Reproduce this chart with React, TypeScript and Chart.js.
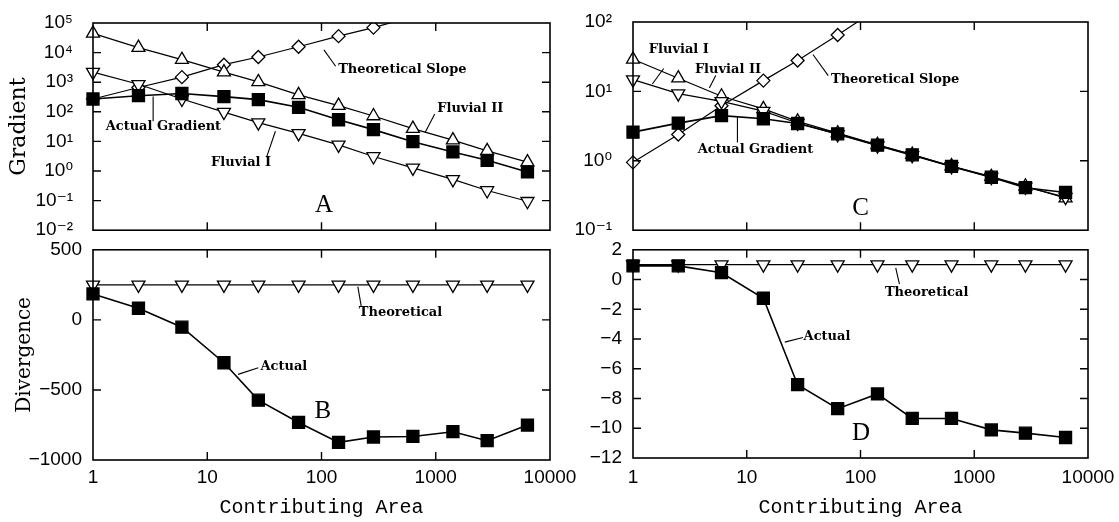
import React, { useEffect, useRef } from 'react';
import { Chart, registerables } from 'chart.js';

Chart.register(...registerables);

// ---------- data ----------
// Contributing area (x) shared by every panel
const AREA = [1, 2.5, 6, 14, 28, 63, 141, 285, 631, 1413, 2818, 6350];

// Panel A: gradient vs contributing area
const A_ACTUAL = [270, 350, 415, 325, 257, 142, 54, 25, 9.8, 4.4, 2.3, 0.93];
const A_THEORY = [270, 660, 1480, 3900, 7100, 15800, 36000, 70000, 165000, null, null, null];
const A_FLUVIAL_I = [2190, 850, 270, 98, 43, 18.6, 7.6, 3.1, 1.27, 0.52, 0.22, 0.095];
const A_FLUVIAL_II = [44600, 14800, 5760, 2190, 1020, 373, 162, 72, 27, 11, 4.8, 2.0];

// Panel B: divergence
const B_THEORY = [250, 250, 250, 250, 250, 250, 250, 250, 250, 250, 250, 250];
const B_ACTUAL = [185, 83, -52, -306, -573, -732, -874, -836, -832, -798, -862, -751];

// Panel C: gradient vs contributing area
const C_ACTUAL = [2.59, 3.49, 4.47, 4.04, 3.45, 2.45, 1.68, 1.22, 0.83, 0.58, 0.41, 0.35];
const C_THEORY = [0.95, 2.39, 6.2, 14.3, 27.9, 65, 155, null, null, null, null, null];
const C_FLUVIAL_I = [14.8, 9.3, 7.2, 5.2, 3.5, 2.4, 1.65, 1.2, 0.83, 0.58, 0.42, 0.3];
const C_FLUVIAL_II = [29, 15.5, 8.5, 5.6, 3.7, 2.5, 1.7, 1.23, 0.84, 0.59, 0.43, 0.29];

// Panel D: divergence
const D_THEORY = [1, 1, 1, 1, 1, 1, 1, 1, 1, 1, 1, 1];
const D_ACTUAL = [0.92, 0.92, 0.46, -1.26, -7.07, -8.68, -7.69, -9.34, -9.34, -10.11, -10.33, -10.62];

// Tick values
const X_TICKS = [1, 10, 100, 1000, 10000];
const A_Y_TICKS = [1e-2, 1e-1, 1, 10, 100, 1e3, 1e4, 1e5];
const C_Y_TICKS = [0.1, 1, 10, 100];

// ---------- helpers ----------
const SUP: Record<string, string> = {
  '-': '\u207B', '0': '\u2070', '1': '\u00B9', '2': '\u00B2', '3': '\u00B3',
  '4': '\u2074', '5': '\u2075', '6': '\u2076', '7': '\u2077', '8': '\u2078', '9': '\u2079',
};
const pow10Label = (v: number) =>
  '10' + String(Math.round(Math.log10(v))).split('').map((c) => SUP[c]).join('');
const linLabel = (v: number) => (v < 0 ? '\u2212' + Math.abs(v) : String(v));

const pts = (ys: (number | null)[]) =>
  AREA.map((x, i) => ({ x, y: ys[i] })).filter((p) => p.y !== null);

const TICK_FONT = { family: '"Liberation Sans", "DejaVu Sans", sans-serif', size: 19 };
const NOTE_FONT = 'bold 13px "DejaVu Serif", serif';
const LETTER_FONT = '25px "Liberation Serif", serif';

const CLIP = { left: 14, right: 14, top: 0, bottom: 14 };

function series(ys: (number | null)[], kind: string, yMax: number) {
  const base: any = {
    data: pts(ys),
    borderColor: '#000',
    borderWidth: 1.2,
    pointBorderColor: '#000',
    pointBorderWidth: 1.3,
    pointBackgroundColor: '#fff',
    tension: 0,
    clip: CLIP,
  };
  if (kind === 'square') {
    base.pointStyle = 'rect';
    base.pointRadius = 8.5;
    base.pointBackgroundColor = '#000';
    base.borderWidth = 1.6;
  } else if (kind === 'up') {
    base.pointStyle = 'triangle';
    base.pointRadius = 7.5;
  } else if (kind === 'down') {
    base.pointStyle = 'triangle';
    base.pointRotation = 180;
    base.pointRadius = 7.5;
  } else if (kind === 'diamond') {
    base.pointStyle = 'rectRot';
    base.pointRadius = (ctx: any) => (ctx.raw && ctx.raw.y > yMax ? 0 : 6.5);
  }
  return base;
}

// ---------- plugins ----------
const framePlugin = {
  id: 'frame',
  afterDatasetsDraw(chart: any) {
    const { ctx, chartArea: a, scales } = chart;
    const x = scales.x;
    const y = scales.y;
    ctx.save();
    ctx.strokeStyle = '#000';
    ctx.lineWidth = 1.6;
    ctx.strokeRect(a.left, a.top, a.right - a.left, a.bottom - a.top);
    const L = 8;
    ctx.lineWidth = 1.4;
    ctx.beginPath();
    for (const t of x.ticks) {
      const px = x.getPixelForValue(t.value);
      if (px <= a.left + 2 || px >= a.right - 2) continue;
      ctx.moveTo(px, a.bottom);
      ctx.lineTo(px, a.bottom - L);
      ctx.moveTo(px, a.top);
      ctx.lineTo(px, a.top + L);
    }
    for (const t of y.ticks) {
      const py = y.getPixelForValue(t.value);
      if (py <= a.top + 2 || py >= a.bottom - 2) continue;
      ctx.moveTo(a.left, py);
      ctx.lineTo(a.left + L, py);
      ctx.moveTo(a.right, py);
      ctx.lineTo(a.right - L, py);
    }
    ctx.stroke();
    ctx.restore();
  },
};

const notesPlugin = {
  id: 'notes',
  afterDraw(chart: any, _args: any, opts: any) {
    const { ctx, scales } = chart;
    const x = scales.x;
    const y = scales.y;
    const items = (opts && opts.items) || [];
    ctx.save();
    ctx.strokeStyle = '#000';
    ctx.fillStyle = '#000';
    ctx.lineWidth = 1.1;
    for (let i = 0; i < items.length; i++) {
      const n = items[i];
      if (n.line) {
        ctx.beginPath();
        ctx.moveTo(x.getPixelForValue(n.line[0]), y.getPixelForValue(n.line[1]));
        ctx.lineTo(x.getPixelForValue(n.line[2]), y.getPixelForValue(n.line[3]));
        ctx.stroke();
      }
      ctx.font = n.font;
      ctx.textAlign = n.align;
      ctx.textBaseline = 'middle';
      ctx.fillText(n.text, x.getPixelForValue(n.x), y.getPixelForValue(n.y));
    }
    ctx.restore();
  },
};

// ---------- panel configs ----------
type PanelCfg = {
  key: string;
  left: number; top: number; w: number; h: number;
  yWidth: number; padTop: number; padRight: number; xHeight: number;
  xLabels: boolean; xPad: number;
  yType: 'logarithmic' | 'linear'; yMin: number; yMax: number;
  yTicks?: number[]; yStep?: number; yPad: number;
  yTitle?: string; yTitlePad?: number; yTitleSize?: number;
  datasets: any[];
  notes: any[];
};

const PANELS: PanelCfg[] = [
  {
    key: 'A', left: 0, top: 0, w: 585, h: 240,
    yWidth: 93, padTop: 23, padRight: 35, xHeight: 8,
    xLabels: false, xPad: 0,
    yType: 'logarithmic', yMin: 1e-2, yMax: 1e5, yTicks: A_Y_TICKS, yPad: 20,
    yTitle: 'Gradient', yTitlePad: 6, yTitleSize: 22,
    datasets: [
      series(A_ACTUAL, 'square', 1e5),
      series(A_FLUVIAL_I, 'down', 1e5),
      series(A_FLUVIAL_II, 'up', 1e5),
      series(A_THEORY, 'diamond', 1e5),
    ],
    notes: [
      { text: 'Theoretical Slope', x: 140, y: 2670, font: NOTE_FONT, align: 'left', line: [133, 3470, 105, 12300] },
      { text: 'Fluvial II', x: 1030, y: 132, font: NOTE_FONT, align: 'left', line: [980, 85, 807, 20] },
      { text: 'Actual Gradient', x: 1.29, y: 31, font: NOTE_FONT, align: 'left', line: [3.36, 48, 3.36, 330] },
      { text: 'Fluvial I', x: 10.8, y: 1.86, font: NOTE_FONT, align: 'left', line: [33, 2.9, 39.5, 22] },
      { text: 'A', x: 105, y: 0.068, font: LETTER_FONT, align: 'center' },
    ],
  },
  {
    key: 'B', left: 0, top: 240, w: 585, h: 282,
    yWidth: 93, padTop: 8, padRight: 35, xHeight: 62,
    xLabels: true, xPad: 6,
    yType: 'linear', yMin: -1000, yMax: 500, yStep: 500, yPad: 11,
    yTitle: 'Divergence', yTitlePad: 13, yTitleSize: 20,
    datasets: [
      series(B_ACTUAL, 'square', 500),
      series(B_THEORY, 'down', 500),
    ],
    notes: [
      { text: 'Theoretical', x: 212, y: 55, font: NOTE_FONT, align: 'left', line: [223, 95, 208, 237] },
      { text: 'Actual', x: 29.2, y: -332, font: NOTE_FONT, align: 'left', line: [28, -341, 18.6, -389] },
      { text: 'B', x: 102.6, y: -656, font: LETTER_FONT, align: 'center' },
    ],
  },
  {
    key: 'C', left: 560, top: 0, w: 559, h: 240,
    yWidth: 73, padTop: 22, padRight: 31, xHeight: 9,
    xLabels: false, xPad: 0,
    yType: 'logarithmic', yMin: 0.1, yMax: 100, yTicks: C_Y_TICKS, yPad: 21,
    datasets: [
      series(C_ACTUAL, 'square', 100),
      series(C_FLUVIAL_I, 'down', 100),
      series(C_FLUVIAL_II, 'up', 100),
      series(C_THEORY, 'diamond', 100),
    ],
    notes: [
      { text: 'Theoretical Slope', x: 55, y: 14.8, font: NOTE_FONT, align: 'left', line: [52, 16.9, 38.2, 34] },
      { text: 'Fluvial I', x: 1.378, y: 39.4, font: NOTE_FONT, align: 'left', line: [1.86, 21.4, 1.48, 12.8] },
      { text: 'Fluvial II', x: 3.5, y: 20.7, font: NOTE_FONT, align: 'left', line: [5.34, 16.9, 4.69, 11.2] },
      { text: 'Actual Gradient', x: 3.71, y: 1.44, font: NOTE_FONT, align: 'left', line: [8.28, 1.83, 8.28, 4.27] },
      { text: 'C', x: 100, y: 0.206, font: LETTER_FONT, align: 'center' },
    ],
  },
  {
    key: 'D', left: 560, top: 240, w: 559, h: 282,
    yWidth: 73, padTop: 8, padRight: 31, xHeight: 64,
    xLabels: true, xPad: 8,
    yType: 'linear', yMin: -12, yMax: 2, yStep: 2, yPad: 11,
    datasets: [
      series(D_ACTUAL, 'square', 2),
      series(D_THEORY, 'down', 2),
    ],
    notes: [
      { text: 'Theoretical', x: 164, y: -0.91, font: NOTE_FONT, align: 'left', line: [220, -0.31, 204, 0.79] },
      { text: 'Actual', x: 31.6, y: -3.84, font: NOTE_FONT, align: 'left', line: [31.2, -3.9, 21.6, -4.21] },
      { text: 'D', x: 101, y: -10.38, font: LETTER_FONT, align: 'center' },
    ],
  },
];

function buildConfig(cfg: PanelCfg): any {
  const yScale: any = {
    type: cfg.yType,
    position: 'left',
    min: cfg.yMin,
    max: cfg.yMax,
    grid: { display: false, drawTicks: false },
    border: { display: false },
    ticks: {
      autoSkip: false,
      padding: cfg.yPad,
      color: '#000',
      font: TICK_FONT,
      callback: (v: number) => (cfg.yType === 'logarithmic' ? pow10Label(v) : linLabel(v)),
    },
    afterFit: (s: any) => {
      s.width = cfg.yWidth;
      s.paddingTop = 0;
      s.paddingBottom = 0;
    },
    title: cfg.yTitle
      ? {
          display: true,
          text: cfg.yTitle,
          color: '#000',
          font: { family: '"DejaVu Serif", serif', size: cfg.yTitleSize || 20 },
          padding: { top: cfg.yTitlePad, bottom: 0 },
        }
      : { display: false },
  };
  if (cfg.yTicks) {
    const t = cfg.yTicks;
    yScale.afterBuildTicks = (s: any) => {
      s.ticks = t.map((value) => ({ value }));
    };
  } else if (cfg.yStep) {
    yScale.ticks.stepSize = cfg.yStep;
  }

  return {
    type: 'line',
    data: { datasets: cfg.datasets },
    options: {
      responsive: false,
      animation: false,
      events: [],
      layout: { padding: { left: 0, top: cfg.padTop, right: cfg.padRight, bottom: 0 } },
      plugins: {
        legend: { display: false },
        tooltip: { enabled: false },
        notes: { items: cfg.notes },
      },
      scales: {
        x: {
          type: 'logarithmic',
          position: 'bottom',
          min: 1,
          max: 10000,
          grid: { display: false, drawTicks: false },
          border: { display: false },
          afterBuildTicks: (s: any) => {
            s.ticks = X_TICKS.map((value) => ({ value }));
          },
          afterFit: (s: any) => {
            s.height = cfg.xHeight;
            s.paddingLeft = 0;
            s.paddingRight = 0;
          },
          ticks: {
            display: cfg.xLabels,
            autoSkip: false,
            maxRotation: 0,
            padding: cfg.xPad,
            color: '#000',
            font: TICK_FONT,
            callback: (v: number) => String(v),
          },
          title: cfg.xLabels
            ? {
                display: true,
                text: 'Contributing Area',
                color: '#000',
                font: { family: '"Liberation Mono", monospace', size: 20 },
                padding: { top: 0, bottom: 2 },
              }
            : { display: false },
        },
        y: yScale,
      },
    },
    plugins: [framePlugin, notesPlugin],
  };
}

function Panel({ cfg }: { cfg: PanelCfg }) {
  const ref = useRef<HTMLCanvasElement>(null);
  useEffect(() => {
    if (!ref.current) return;
    const chart = new Chart(ref.current, buildConfig(cfg));
    return () => chart.destroy();
  }, [cfg]);
  return (
    <canvas
      ref={ref}
      width={cfg.w}
      height={cfg.h}
      style={{ position: 'absolute', left: cfg.left, top: cfg.top, width: cfg.w, height: cfg.h }}
    />
  );
}

export default function App() {
  return (
    <div
      style={{
        position: 'absolute',
        left: 0,
        top: 0,
        width: 1119,
        height: 522,
        background: '#fff',
        overflow: 'hidden',
      }}
    >
      {PANELS.map((p) => (
        <Panel key={p.key} cfg={p} />
      ))}
    </div>
  );
}
